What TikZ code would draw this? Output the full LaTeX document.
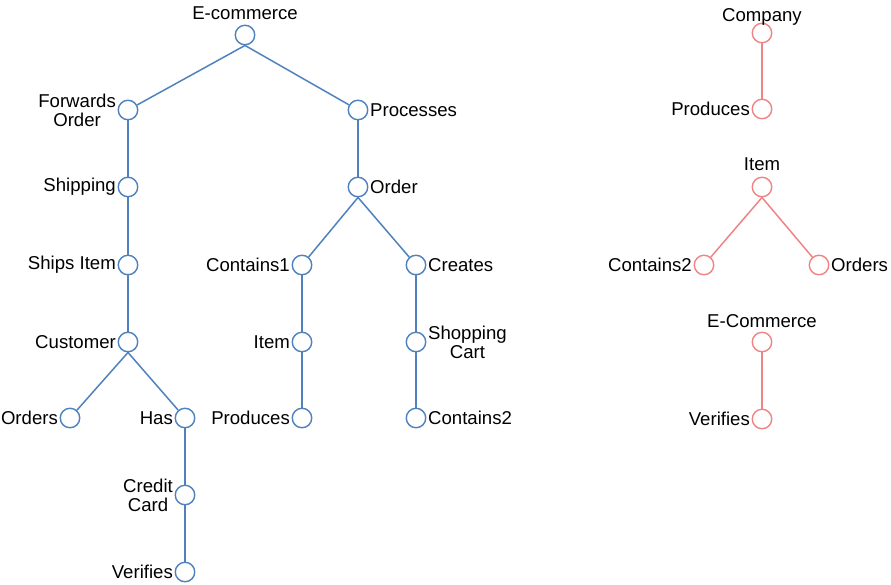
\documentclass[tikz,border=0pt]{standalone}
\usepackage{fontspec}
\setmainfont{Liberation Sans}
\definecolor{tblue}{HTML}{4F81BD}
\definecolor{tred}{HTML}{F08484}
\begin{document}
\begin{tikzpicture}[x=1pt,y=-1pt,
  every node/.style={font=\fontsize{18.6}{21}\selectfont},
  bc/.style={circle,draw=tblue,line width=1.4pt,minimum size=19.5pt,inner sep=0pt,fill=white},
  rc/.style={circle,draw=tred,line width=1.4pt,minimum size=19.5pt,inner sep=0pt,fill=white},
  lab/.style={inner sep=1.5pt,align=center},
  bl/.style={tblue,line width=1.5pt},
  rl/.style={tred,line width=1.5pt}]
\useasboundingbox (0,0) rectangle (891,584);
% blue tree nodes
\node[bc] (ec) at (245,35) {};
\node[bc] (fo) at (128,110) {};
\node[bc] (pr) at (358,110) {};
\node[bc] (sh) at (128,187) {};
\node[bc] (or) at (358,187) {};
\node[bc] (si) at (128,265) {};
\node[bc] (c1) at (302,265) {};
\node[bc] (cr) at (416,265) {};
\node[bc] (cu) at (128,342) {};
\node[bc] (it) at (302,342) {};
\node[bc] (sc) at (416,342) {};
\node[bc] (os) at (70,418) {};
\node[bc] (ha) at (185,418) {};
\node[bc] (pd) at (302,418) {};
\node[bc] (c2) at (416,418) {};
\node[bc] (cc) at (185,495) {};
\node[bc] (ve) at (185,572) {};
% blue labels
\node[lab,anchor=base,inner sep=0pt] (lec) at ([yshift=5pt]ec.north) {E-commerce};
\node[lab,anchor=east] (lfo) at (fo.west) {Forwards\\[-2pt]Order};
\node[lab,anchor=west] (lpr) at (pr.east) {Processes};
\node[lab,anchor=east] (lsh) at (sh.west) {Shipping};
\node[lab,anchor=west] (lor) at (or.east) {Order};
\node[lab,anchor=east] (lsi) at (si.west) {Ships Item};
\node[lab,anchor=east] (lc1) at (c1.west) {Contains1};
\node[lab,anchor=west] (lcr) at (cr.east) {Creates};
\node[lab,anchor=east] (lcu) at (cu.west) {Customer};
\node[lab,anchor=east] (lit) at (it.west) {Item};
\node[lab,anchor=west] (lsc) at (sc.east) {Shopping\\[-2pt]Cart};
\node[lab,anchor=east] (los) at (os.west) {Orders};
\node[lab,anchor=east] (lha) at (ha.west) {Has};
\node[lab,anchor=east] (lpd) at (pd.west) {Produces};
\node[lab,anchor=west] (lc2) at (c2.east) {Contains2};
\node[lab,anchor=east] (lcc) at (cc.west) {Credit\\[-2pt]Card};
\node[lab,anchor=east] (lve) at (ve.west) {Verifies};
% blue edges
\draw[bl] (ec.south) -- (fo);
\draw[bl] (ec.south) -- (pr);
\draw[bl] (fo) -- (sh);
\draw[bl] (sh) -- (si);
\draw[bl] (si) -- (cu);
\draw[bl] (cu.south) -- (os);
\draw[bl] (cu.south) -- (ha);
\draw[bl] (ha) -- (cc);
\draw[bl] (cc) -- (ve);
\draw[bl] (pr) -- (or);
\draw[bl] (or.south) -- (c1);
\draw[bl] (or.south) -- (cr);
\draw[bl] (c1) -- (it);
\draw[bl] (it) -- (pd);
\draw[bl] (cr) -- (sc);
\draw[bl] (sc) -- (c2);
% red trees
\node[rc] (rco) at (762,33) {};
\node[rc] (rpr) at (762,109) {};
\node[rc] (rit) at (762,187) {};
\node[rc] (rc2) at (704,265) {};
\node[rc] (ror) at (819,265) {};
\node[rc] (rec) at (762,342) {};
\node[rc] (rve) at (762,419) {};
\node[lab,anchor=base,inner sep=0pt] (lrco) at ([yshift=1.5pt]rco.north) {Company};
\node[lab,anchor=east] (lrpr) at (rpr.west) {Produces};
\node[lab,anchor=base,inner sep=0pt] (lrit) at ([yshift=6pt]rit.north) {Item};
\node[lab,anchor=east] (lrc2) at (rc2.west) {Contains2};
\node[lab,anchor=west] (lror) at (ror.east) {Orders};
\node[lab,anchor=base,inner sep=0pt] (lrec) at ([yshift=4pt]rec.north) {E-Commerce};
\node[lab,anchor=east] (lrve) at (rve.west) {Verifies};
\draw[rl] (rco) -- (rpr);
\draw[rl] (rit.south) -- (rc2);
\draw[rl] (rit.south) -- (ror);
\draw[rl] (rec) -- (rve);
\end{tikzpicture}
\end{document}
